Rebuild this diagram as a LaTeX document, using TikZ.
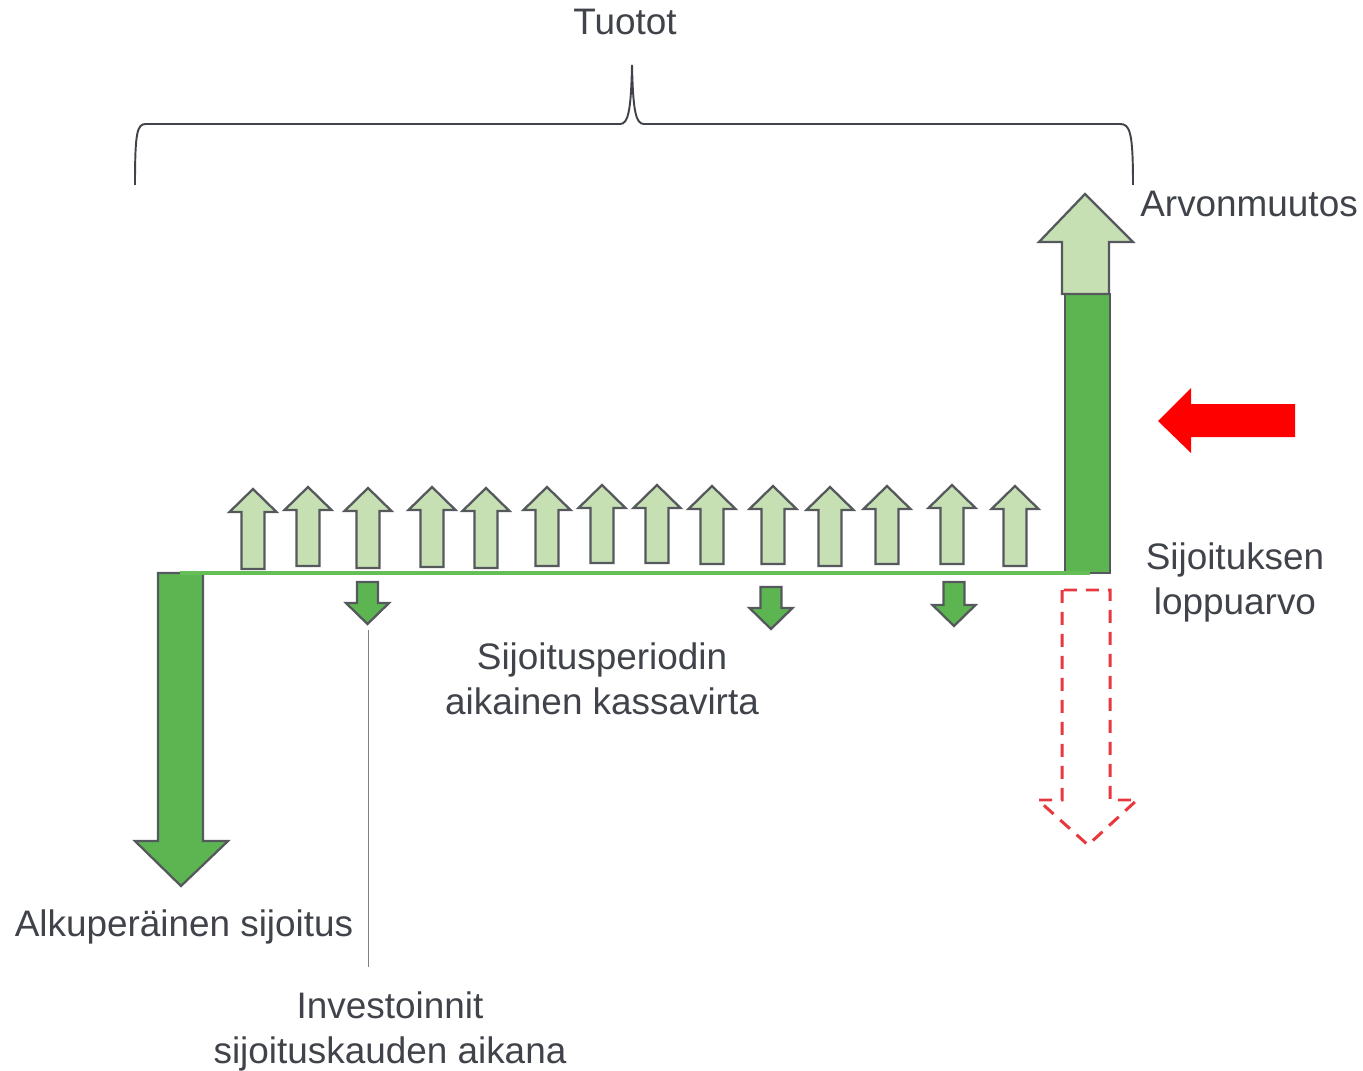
\documentclass[tikz,border=0pt]{standalone}
\usepackage{fontspec}
\setmainfont{Liberation Sans}
\usepackage{tikz}
\usetikzlibrary{positioning}
\definecolor{txtgray}{HTML}{404349}
\definecolor{edgegray}{HTML}{55585D}
\definecolor{darkgrn}{HTML}{5DB551}
\definecolor{lightgrn}{HTML}{C6E0B4}
\definecolor{linegrn}{HTML}{66BE57}
\definecolor{dashred}{HTML}{E8383D}

\begin{document}
\begin{tikzpicture}[
  x=0.02cm, y=-0.02cm,
  lbl/.style={inner sep=0pt, align=center, text=txtgray,
    font=\fontsize{21}{25.6}\selectfont},
  uparr/.style={draw=edgegray, line width=1.3pt, fill=lightgrn, line join=miter},
  downarr/.style={draw=edgegray, line width=1.3pt, fill=darkgrn, line join=miter},
  ghost/.style={draw=dashred, line width=1.7pt, dash pattern=on 0.26cm off 0.18cm},
  brace/.style={draw=txtgray, line width=1.1pt},
  leader/.style={draw=gray, line width=0.5pt},
]
\useasboundingbox (0,0) rectangle (1363,1071);

% --- Cash flows during the period ---
\foreach \x/\t/\b in {253/489/569, 308/487/566, 368/488/568, 432/487/567,
    486/488/568, 547/487/566, 602/485/563, 657/485/563, 712/486/564,
    773/486/564, 830/487/566, 887/486/564, 952/485/564, 1015/486/566}
  \draw[uparr] (\x-11.5,\b) -- (\x-11.5,\t+23) -- (\x-23.5,\t+23) -- (\x,\t)
    -- (\x+23.5,\t+23) -- (\x+11.5,\t+23) -- (\x+11.5,\b) -- cycle;

\foreach \x/\t/\h/\p in {367.5/582/603/624, 771/587/608/629, 954/582/605/626}
  \draw[downarr] (\x-10.5,\t) -- (\x-10.5,\h) -- (\x-21.5,\h) -- (\x,\p)
    -- (\x+21.5,\h) -- (\x+10.5,\h) -- (\x+10.5,\t) -- cycle;

% --- Initial investment ---
\draw[downarr] (158,573) -- (158,841) -- (135,841) -- (181,886) -- (228,841)
  -- (203,841) -- (203,573) -- cycle;

% --- End value and change in value ---
\draw[downarr] (1065,294) rectangle (1110,573);
\draw[uparr] (1062,294) -- (1062,242) -- (1039,242) -- (1085,194) -- (1133,242)
  -- (1109,242) -- (1109,294) -- cycle;
\draw[ghost] (1062,590) -- (1062,800) -- (1038,800) -- (1088,845) -- (1137,800)
  -- (1110,800) -- (1110,590) -- cycle;
\fill[red] (1158,421) -- (1191,388) -- (1191,404) -- (1295,404) -- (1295,437)
  -- (1191,437) -- (1191,453) -- cycle;

% time axis
\coordinate (axstart) at (180,573);
\coordinate (axend) at (1090,573);
\draw[linegrn, line width=2pt] (axstart) -- (axend);

% --- Brace over the returns ---
\draw[brace] (135,185) .. controls (135,132) and (137,124) .. (146,124) -- (620,124)
  .. controls (628,124) and (631,112) .. (632,65)
  .. controls (633,112) and (636,124) .. (644,124) -- (1120,124)
  .. controls (1130,124) and (1133,132) .. (1133,185);

% --- Labels ---
\node[lbl] (tuotot) at (625,22) {Tuotot};
\node[lbl, anchor=west] (arvo) at (1140,204) {Arvonmuutos};
\node[lbl] (loppu) at (1235,582) {Sijoituksen\\loppuarvo};
\node[lbl] (kassa) at (602,679) {Sijoitusperiodin\\aikainen kassavirta};
\node[lbl] (alku) at (184,927) {Alkuperäinen sijoitus};
\node[lbl] (invest) at (390,1031) {Investoinnit\\sijoituskauden aikana};

\coordinate (invtop) at (368,630);
\coordinate (invbot) at (368,967);
\draw[leader] (invtop) -- (invbot);
\end{tikzpicture}
\end{document}
